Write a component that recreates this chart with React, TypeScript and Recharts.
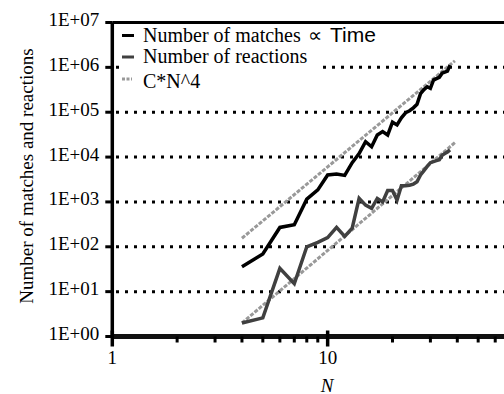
import React from 'react';
import { LineChart, Line, XAxis, YAxis, CartesianGrid, ReferenceLine, Legend, Label } from 'recharts';

const SERIF = '"Liberation Serif", "DejaVu Serif", serif';
const SANS = '"Liberation Sans", Arial, sans-serif';

// problem size N
const nValues = [
  4, 5, 6, 7, 8, 9, 10, 11, 12, 13, 14, 15, 16, 17, 18, 19, 20, 21, 22, 23, 24, 25, 26, 27,
  28, 29, 30, 31, 32, 33, 34, 35, 36, 37,
];
const matchCounts = [
  36, 69, 270, 310, 1150, 1850, 4000, 4200, 3900, 7500, 12000, 22000, 17000, 31000, 37000,
  31000, 60000, 52000, 75000, 97000, 108000, 125000, 150000, 260000, 320000, 370000, 340000,
  520000, 560000, 600000, 740000, 780000, 820000, 1120000,
];
const reactionCounts = [
  2, 2.6, 33, 15, 100, 125, 160, 270, 170, 260, 1200, 850, 720, 1200, 1000, 1800, 1800, 1100,
  2300, 2300, 2350, 2500, 2800, 4000, 5000, 6200, 7500, 7900, 8300, 8700, 11000, 12000, 13000,
  14500,
];
// C*N^4 guide lines (end points)
const fitN = [4, 39];
const fitMatches = [155, 1400000];
const fitReactions = [2, 21000];

const yTicks = [1, 10, 100, 1000, 10000, 100000, 1000000, 10000000];
const yTickLabels = ['1E+00', '1E+01', '1E+02', '1E+03', '1E+04', '1E+05', '1E+06', '1E+07'];
const xTicks = [1, 2, 3, 4, 5, 6, 7, 8, 9, 10, 20, 30, 40, 50, 60, 70, 80, 90, 100];
const xMajor = [1, 10, 100];
const xLabelled = [1, 10];

const toRows = (xs: number[], ys: number[]) => xs.map((n, i) => ({ n, v: ys[i] }));

const matchRows = toRows(nValues, matchCounts);
const reactionRows = toRows(nValues, reactionCounts);
const fitMatchRows = toRows(fitN, fitMatches);
const fitReactionRows = toRows(fitN, fitReactions);

const serifText = { fontFamily: SERIF, fill: '#000' };

function XTick(props: any) {
  const { x, y, payload } = props;
  const major = xMajor.includes(payload.value);
  return (
    <g>
      <line
        x1={x}
        x2={x}
        y1={major ? y - 6 : y}
        y2={major ? y + 10 : y + 6}
        stroke="#000"
        strokeWidth={major ? 3.5 : 3}
      />
      {xLabelled.includes(payload.value) && (
        <text x={x} y={y + 27} textAnchor="middle" fontSize={19} style={serifText}>
          {payload.value}
        </text>
      )}
    </g>
  );
}

function YTick(props: any) {
  const { x, y, payload } = props;
  const idx = yTicks.indexOf(payload.value);
  return (
    <text x={x} y={y + 3.5} textAnchor="end" fontSize={19} style={serifText}>
      {yTickLabels[idx]}
    </text>
  );
}

function GridLine(props: any) {
  const { x1, x2, y1, y2 } = props;
  return (
    <line
      x1={x1}
      x2={x2}
      y1={y1}
      y2={y2}
      stroke="#000"
      strokeWidth={3}
      strokeDasharray="3 6"
      strokeDashoffset={5.3}
    />
  );
}

function LegendBox() {
  return (
    <svg width={280} height={72} style={{ overflow: 'visible', display: 'block' }}>
      <rect x={0} y={0} width={199} height={68} fill="#fff" />
      <line x1={3} x2={15} y1={11.5} y2={11.5} stroke="#000" strokeWidth={3} />
      <text x={24} y={18.3} fontSize={20} style={serifText}>
        Number of matches
      </text>
      <text x={189} y={18.3} fontSize={20} style={{ fontFamily: SANS, fill: '#000' }}>
        ∝
      </text>
      <text x={211} y={18.3} fontSize={21} style={{ fontFamily: SANS, fill: '#000' }}>
        Time
      </text>
      <line x1={3} x2={15} y1={33} y2={33} stroke="#404040" strokeWidth={3} />
      <text x={24} y={38.7} fontSize={20} style={serifText}>
        Number of reactions
      </text>
      <line x1={3} x2={13} y1={55} y2={55} stroke="#999" strokeWidth={3} strokeDasharray="3 1.5" />
      <text x={24} y={64.3} fontSize={20} style={serifText}>
        C*N^4
      </text>
    </svg>
  );
}

export default function App() {
  return (
    <div
      style={{
        position: 'absolute',
        left: 0,
        top: 0,
        width: 504,
        height: 394,
        overflow: 'hidden',
        background: '#fff',
        fontFamily: SERIF,
      }}
    >
      <LineChart width={548} height={394} margin={{ top: 22.5, right: 5, bottom: 0, left: 0 }}>
        <CartesianGrid vertical={false} horizontal={(p: any) => <GridLine key={p.key} {...p} />} />
        <XAxis
          dataKey="n"
          type="number"
          scale="log"
          domain={[1, 100]}
          allowDataOverflow
          ticks={xTicks}
          interval={0}
          height={57.5}
          tickSize={0}
          tickMargin={0}
          tickLine={false}
          tick={<XTick />}
          axisLine={{ stroke: '#111', strokeWidth: 5 }}
        >
          <Label
            content={() => (
              <text
                x={327}
                y={391.5}
                textAnchor="middle"
                fontSize={19}
                style={{ ...serifText, fontStyle: 'italic' }}
              >
                N
              </text>
            )}
          />
        </XAxis>
        <YAxis
          type="number"
          scale="log"
          domain={[1, 10000000]}
          allowDataOverflow
          ticks={yTicks}
          interval={0}
          width={112.3}
          tickSize={7}
          tickMargin={6}
          tickLine={{ stroke: '#000', strokeWidth: 3 }}
          tick={<YTick />}
          axisLine={{ stroke: '#000', strokeWidth: 3.5 }}
        >
          <Label
            content={() => (
              <text
                transform="translate(32.5,176) rotate(-90)"
                textAnchor="middle"
                fontSize={19}
                style={serifText}
              >
                Number of matches and reactions
              </text>
            )}
          />
        </YAxis>
        <ReferenceLine y={10000000} stroke="#000" strokeWidth={3} />
        <Line
          data={fitMatchRows}
          dataKey="v"
          stroke="#999"
          strokeWidth={3}
          strokeDasharray="4 1.5"
          dot={false}
          activeDot={false}
          isAnimationActive={false}
        />
        <Line
          data={fitReactionRows}
          dataKey="v"
          stroke="#999"
          strokeWidth={3}
          strokeDasharray="4 1.5"
          dot={false}
          activeDot={false}
          isAnimationActive={false}
        />
        <Line
          data={reactionRows}
          dataKey="v"
          stroke="#404040"
          strokeWidth={3.5}
          dot={false}
          activeDot={false}
          isAnimationActive={false}
        />
        <Line
          data={matchRows}
          dataKey="v"
          stroke="#000"
          strokeWidth={3.5}
          dot={false}
          activeDot={false}
          isAnimationActive={false}
        />
        <Legend
          layout="horizontal"
          verticalAlign="middle"
          align="center"
          wrapperStyle={{ position: 'absolute', top: 24, left: 119, width: 280, height: 72 }}
          content={() => <LegendBox />}
        />
      </LineChart>
    </div>
  );
}
